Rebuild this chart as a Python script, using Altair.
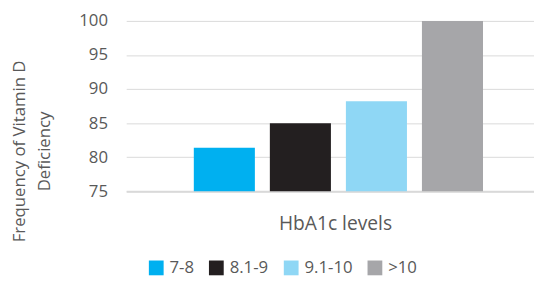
import altair as alt
import pandas as pd

categories = ["7-8", "8.1-9", "9.1-10", ">10"]
values = [81.4, 85.0, 88.2, 100.0]
colors = ["#00B0F0", "#231F20", "#8FD7F5", "#A6A6A9"]

df = pd.DataFrame({"level": categories, "freq": values})

FONT = "Open Sans"
GREY = "#595959"

chart = alt.Chart(df).mark_bar(clip=True).encode(
    x=alt.X("level:N", sort=categories,
            scale=alt.Scale(paddingInner=0.197, paddingOuter=0.78, align=0.57),
            axis=alt.Axis(title="HbA1c levels", labels=False, ticks=False,
                          domainColor="#d9d9d9", domainWidth=2,
                          titleFont=FONT, titleFontSize=19.5, titleFontWeight="normal",
                          titleColor=GREY, titleX=212, titleY=39,
                          titleBaseline="alphabetic", titleAlign="center")),
    y=alt.Y("freq:Q", scale=alt.Scale(domain=[75, 100], zero=False, nice=False),
            axis=alt.Axis(values=[75, 80, 85, 90, 95, 100],
                          title=["Frequency of Vitamin D", "Deficiency"],
                          domain=False, ticks=False, gridColor="#d9d9d9",
                          labelFont=FONT, labelFontSize=17, labelColor=GREY,
                          labelPadding=19,
                          titleFont=FONT, titleFontSize=17, titleFontWeight="normal",
                          titleColor=GREY, titleAngle=-90, titleX=-103, titleY=132,
                          titleBaseline="alphabetic", titleAlign="center",
                          titleLineHeight=25)),
    color=alt.Color("level:N", sort=categories,
                    scale=alt.Scale(domain=categories, range=colors),
                    legend=alt.Legend(title=None, orient="none", legendX=22, legendY=242,
                                      direction="horizontal", symbolType="square",
                                      symbolSize=225, symbolStrokeWidth=0, padding=0,
                                      labelFont=FONT, labelFontSize=17, labelColor=GREY,
                                      labelOffset=5, columnPadding=14)),
).properties(
    width=414, height=173,
    autosize=alt.AutoSizeParams(type="none"),
    padding={"left": 120, "top": 11, "right": 0, "bottom": 93},
).configure_view(stroke=None)

chart.save("out.html", embed_options={"renderer": "svg", "actions": False})
